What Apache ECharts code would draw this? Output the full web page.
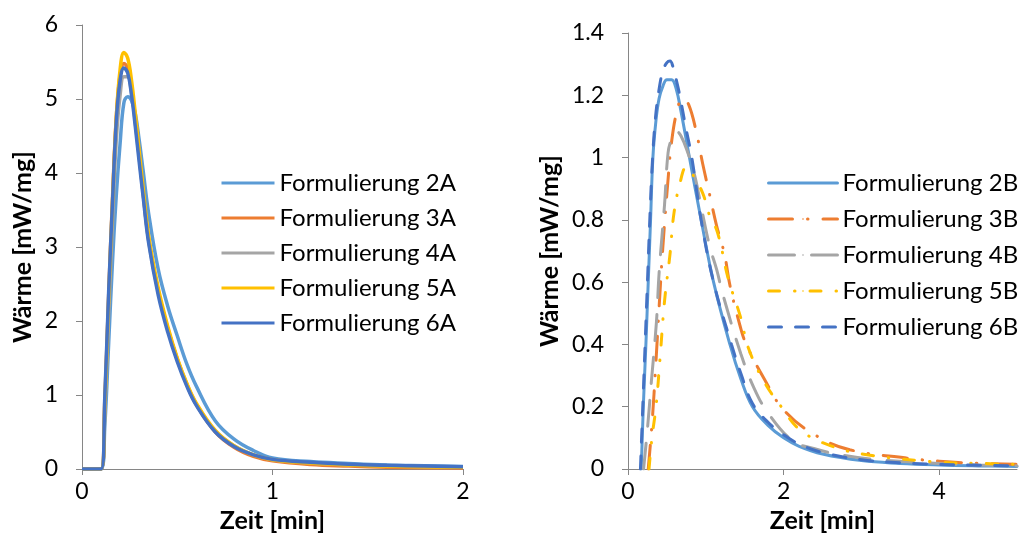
<!DOCTYPE html>
<html><head><meta charset="utf-8">
<script src="https://cdn.jsdelivr.net/npm/echarts@6/dist/echarts.min.js"></script>
<style>html,body{margin:0;padding:0;background:#fff}#c{width:1025px;height:556px}</style>
</head><body><div id="c"></div>
<script>
// ---- Left chart (A formulations): shared time axis [min] ----
const timeA = [0, 0.1, 0.12, 0.14, 0.16, 0.18, 0.2, 0.22, 0.24, 0.26, 0.28, 0.3, 0.32, 0.35, 0.4, 0.45, 0.5, 0.55, 0.6, 0.7, 0.8, 0.9, 1.0, 1.2, 1.4, 1.6, 1.8, 2.0];
const form2A = [0, 0, 0.6, 1.7, 2.8, 3.7, 4.4, 4.95, 5.03, 4.98, 4.8, 4.45, 4.05, 3.45, 2.7, 2.2, 1.8, 1.42, 1.12, 0.65, 0.4, 0.25, 0.15, 0.1, 0.075, 0.055, 0.045, 0.035];
const form3A = [0, 0, 0.95, 2.35, 3.65, 4.75, 5.32, 5.48, 5.42, 5.15, 4.72, 4.25, 3.75, 3.1, 2.4, 1.9, 1.48, 1.14, 0.87, 0.5, 0.29, 0.17, 0.11, 0.06, 0.04, 0.025, 0.018, 0.012];
const form4A = [0, 0, 0.8, 2.1, 3.35, 4.45, 5.05, 5.3, 5.3, 5.08, 4.68, 4.22, 3.75, 3.08, 2.4, 1.9, 1.49, 1.15, 0.88, 0.51, 0.31, 0.19, 0.125, 0.08, 0.057, 0.042, 0.032, 0.026];
const form5A = [0, 0, 0.9, 2.3, 3.6, 4.75, 5.4, 5.63, 5.55, 5.25, 4.8, 4.3, 3.82, 3.15, 2.45, 1.93, 1.5, 1.16, 0.89, 0.52, 0.31, 0.19, 0.125, 0.08, 0.055, 0.04, 0.03, 0.025];
const form6A = [0, 0, 1.0, 2.4, 3.6, 4.7, 5.25, 5.42, 5.35, 5.05, 4.62, 4.15, 3.7, 3.05, 2.35, 1.85, 1.45, 1.12, 0.86, 0.5, 0.3, 0.19, 0.13, 0.09, 0.065, 0.05, 0.04, 0.03];
const namesA = ['Formulierung 2A', 'Formulierung 3A', 'Formulierung 4A', 'Formulierung 5A', 'Formulierung 6A'];

// ---- Right chart (B formulations): time [min] and heat [mW/mg] per series ----
const time2B = [0.17, 0.2, 0.23, 0.26, 0.29, 0.32, 0.36, 0.4, 0.45, 0.5, 0.56, 0.62, 0.68, 0.79, 0.94, 1.1, 1.31, 1.45, 1.6, 1.8, 2.0, 2.2, 2.5, 3.0, 3.5, 4.0, 4.5, 5.0];
const form2B = [0, 0.22, 0.4, 0.6, 0.8, 1.0, 1.12, 1.19, 1.23, 1.25, 1.25, 1.22, 1.15, 1.0, 0.8, 0.6, 0.4, 0.29, 0.2, 0.14, 0.1, 0.073, 0.048, 0.027, 0.018, 0.013, 0.01, 0.008];
const time3B = [0.26, 0.31, 0.357, 0.4, 0.45, 0.515, 0.56, 0.63, 0.7, 0.78, 0.88, 0.96, 1.05, 1.14, 1.24, 1.31, 1.44, 1.52, 1.75, 2.0, 2.4, 2.85, 3.58, 4.0, 4.5, 5.0];
const form3B = [0, 0.15, 0.335, 0.52, 0.72, 0.93, 1.05, 1.15, 1.19, 1.17, 1.08, 0.98, 0.88, 0.78, 0.69, 0.59, 0.46, 0.4, 0.29, 0.19, 0.11, 0.062, 0.035, 0.025, 0.018, 0.015];
const time4B = [0.2, 0.253, 0.3, 0.365, 0.4, 0.47, 0.515, 0.56, 0.62, 0.68, 0.77, 0.86, 0.95, 1.05, 1.14, 1.22, 1.45, 1.62, 1.8, 2.12, 2.4, 2.72, 3.2, 4.0, 4.5, 5.0];
const form4B = [0, 0.137, 0.28, 0.47, 0.63, 0.85, 1.015, 1.06, 1.085, 1.07, 1.015, 0.94, 0.83, 0.715, 0.64, 0.56, 0.37, 0.26, 0.18, 0.09, 0.065, 0.046, 0.03, 0.018, 0.013, 0.01];
const time5B = [0.27, 0.31, 0.36, 0.41, 0.47, 0.54, 0.59, 0.67, 0.75, 0.82, 0.96, 1.04, 1.15, 1.29, 1.45, 1.545, 1.75, 1.97, 2.21, 2.6, 3.07, 4.0, 4.5, 5.0];
const form5B = [0, 0.105, 0.2, 0.35, 0.54, 0.69, 0.82, 0.92, 0.97, 0.95, 0.886, 0.82, 0.76, 0.61, 0.485, 0.39, 0.28, 0.2, 0.126, 0.075, 0.046, 0.022, 0.018, 0.015];
const time6B = [0.16, 0.19, 0.22, 0.25, 0.28, 0.31, 0.35, 0.4, 0.45, 0.5, 0.54, 0.58, 0.62, 0.665, 0.74, 0.82, 0.94, 1.1, 1.33, 1.46, 1.6, 1.8, 2.0, 2.2, 2.5, 3.0, 3.5, 4.0, 4.5, 5.0];
const form6B = [0, 0.2, 0.4, 0.6, 0.8, 0.97, 1.12, 1.22, 1.28, 1.305, 1.31, 1.29, 1.25, 1.2, 1.1, 1.0, 0.8, 0.6, 0.4, 0.3, 0.21, 0.15, 0.11, 0.08, 0.053, 0.03, 0.02, 0.015, 0.012, 0.01];
const namesB = ['Formulierung 2B', 'Formulierung 3B', 'Formulierung 4B', 'Formulierung 5B', 'Formulierung 6B'];

const xTicksA = [0, 1, 2];
const xTicksB = [0, 2, 4];

const colors = ['#5B9BD5', '#ED7D31', '#A5A5A5', '#FFC000', '#4472C4'];
const FONT = 'Lato';
const AXIS_COLOR = '#868686';

function pairs(t, v) { return t.map((x, i) => [x, v[i]]); }

const seriesA = [form2A, form3A, form4A, form5A, form6A].map((v, i) => ({
  name: namesA[i], type: 'line', xAxisIndex: 0, yAxisIndex: 0,
  data: pairs(timeA, v), smooth: 0.4, symbol: 'none', showSymbol: false,
  lineStyle: { color: colors[i], width: 3.5 }, itemStyle: { color: colors[i] }, z: 2 + i
}));

const dashB = ['solid', [24, 15, 0.5, 15], [26, 17], [11, 15, 0.5, 15], [13, 14]];
const tB = [time2B, time3B, time4B, time5B, time6B];
const vB = [form2B, form3B, form4B, form5B, form6B];
const seriesB = vB.map((v, i) => ({
  name: namesB[i], type: 'line', xAxisIndex: 1, yAxisIndex: 1,
  data: pairs(tB[i], v), smooth: 0.4, symbol: 'none', showSymbol: false,
  lineStyle: { color: colors[i], width: 3, type: dashB[i], cap: 'round' }, itemStyle: { color: colors[i] }, z: 2 + i
}));

function xAxis(idx, max, interval, ticks) {
  return {
    gridIndex: idx, type: 'value', min: 0, max: max, interval: interval,
    name: 'Zeit [min]', nameLocation: 'middle', nameGap: 39,
    nameTextStyle: { fontFamily: FONT, fontWeight: 'bold', fontSize: 25, color: '#000' },
    axisLine: { show: true, lineStyle: { color: AXIS_COLOR, width: 1 } },
    axisTick: { show: true, inside: false, length: 6, customValues: ticks, lineStyle: { color: AXIS_COLOR } },
    axisLabel: { fontFamily: FONT, fontSize: 23, color: '#000', margin: 11, customValues: ticks },
    splitLine: { show: false }
  };
}
function yAxis(idx, max, interval, gap) {
  return {
    gridIndex: idx, type: 'value', min: 0, max: max, interval: interval,
    name: 'Wärme [mW/mg]', nameLocation: 'middle', nameGap: gap,
    nameTextStyle: { fontFamily: FONT, fontWeight: 'bold', fontSize: 25, color: '#000' },
    axisLine: { show: true, lineStyle: { color: AXIS_COLOR, width: 1 } },
    axisTick: { show: true, inside: false, length: 6, lineStyle: { color: AXIS_COLOR } },
    axisLabel: { fontFamily: FONT, fontSize: 23, color: '#000', margin: 24 },
    splitLine: { show: false }
  };
}
function legend(names, left, itemWidth, gap) {
  return {
    data: names, orient: 'vertical', left: left, top: 166,
    itemWidth: itemWidth, itemHeight: 2, itemGap: gap,
    lineStyle: { width: 3 },
    textStyle: { fontFamily: FONT, fontSize: 24, color: '#000', lineHeight: 24 },
    selectedMode: false
  };
}

const chart = echarts.init(document.getElementById('c'), null, { renderer: 'canvas' });
chart.setOption({
  animation: false,
  backgroundColor: '#fff',
  grid: [
    { left: 82, top: 25, width: 381, height: 444 },
    { left: 628, top: 33, width: 389, height: 436 }
  ],
  xAxis: [xAxis(0, 2, 1, xTicksA), xAxis(1, 5, 2, xTicksB)],
  yAxis: [yAxis(0, 6, 1, 47), yAxis(1, 1.4, 0.2, 66)],
  legend: [legend(namesA, 215, 53, 11), legend(namesB, 762, 69, 12)],
  series: seriesA.concat(seriesB)
});
</script>
</body></html>
